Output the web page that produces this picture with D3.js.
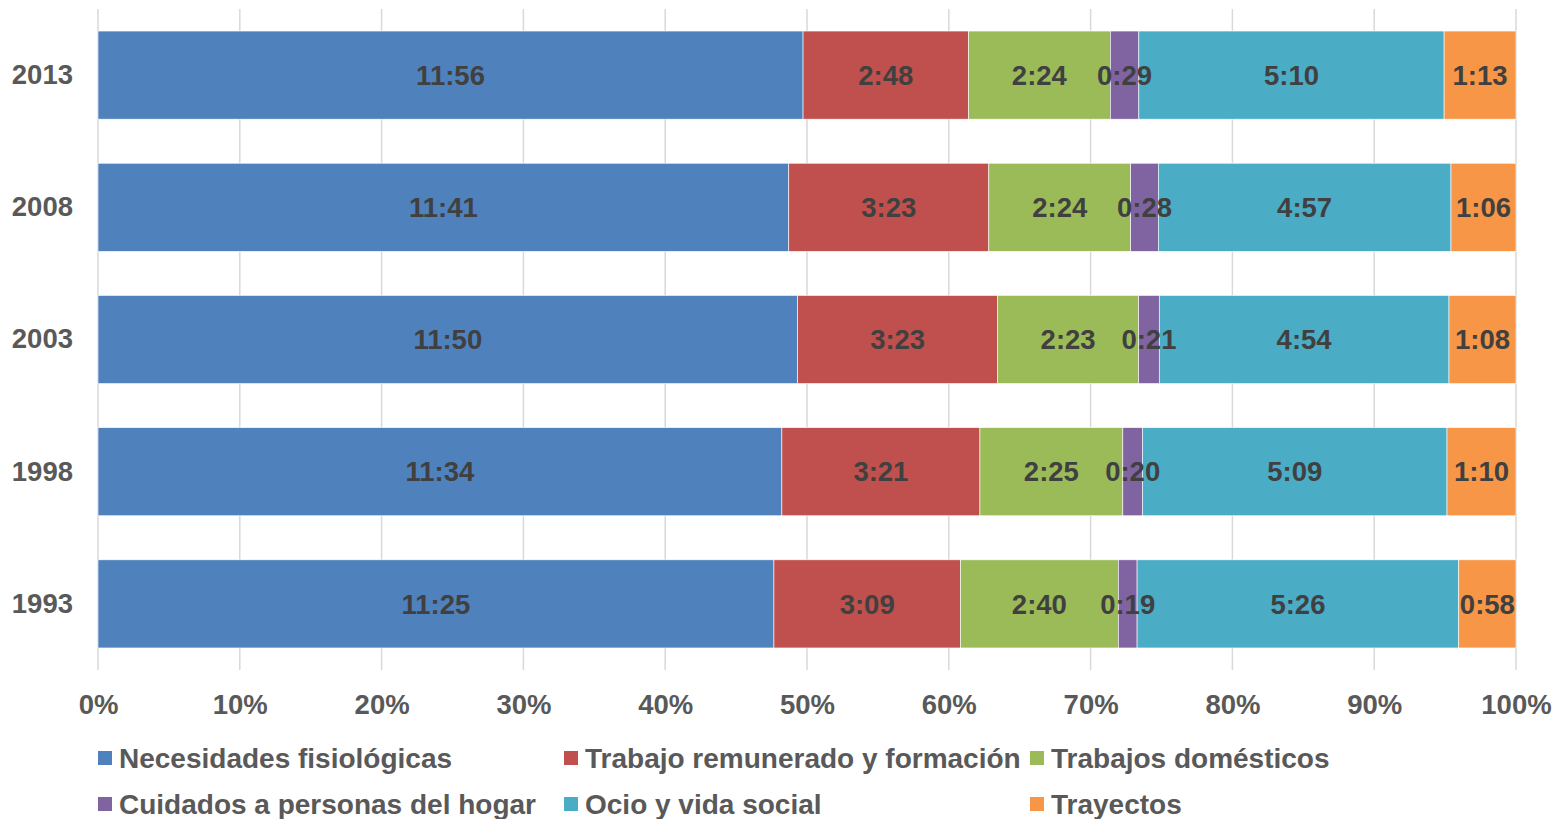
<!DOCTYPE html>
<html>
<head>
<meta charset="UTF-8">
<script src="https://d3js.org/d3.v7.min.js"></script>
<style>
  body { margin: 0; background: #fff; }
  svg text { font-family: "Liberation Sans", Arial, sans-serif; font-weight: bold; }
</style>
</head>
<body>
<svg width="1554" height="819"></svg>
<script>

// years top to bottom
var years = ["2013", "2008", "2003", "1998", "1993"];

var categories = ["Necesidades fisiológicas", "Trabajo remunerado y formación", "Trabajos domésticos",
                  "Cuidados a personas del hogar", "Ocio y vida social", "Trayectos"];

// time spent per day (h:mm), one array per category, same order as years
var fisiologicas = ["11:56", "11:41", "11:50", "11:34", "11:25"];
var remunerado   = ["2:48", "3:23", "3:23", "3:21", "3:09"];
var domesticos   = ["2:24", "2:24", "2:23", "2:25", "2:40"];
var cuidados     = ["0:29", "0:28", "0:21", "0:20", "0:19"];
var ocio         = ["5:10", "4:57", "4:54", "5:09", "5:26"];
var trayectos    = ["1:13", "1:06", "1:08", "1:10", "0:58"];

var tickLabels = ["0%", "10%", "20%", "30%", "40%", "50%", "60%", "70%", "80%", "90%", "100%"];

var colors = ["#4F81BD", "#C0504D", "#9BBB59", "#8064A2", "#4BACC6", "#F79646"];

var seriesValues = [fisiologicas, remunerado, domesticos, cuidados, ocio, trayectos];

function toMinutes(s) {
  var p = s.split(":");
  return +p[0] * 60 + +p[1];
}

var rows = years.map(function(y, i) {
  var r = {year: y};
  categories.forEach(function(c, j) { r[c] = toMinutes(seriesValues[j][i]); r[c + "_lbl"] = seriesValues[j][i]; });
  return r;
});

var svg = d3.select("svg"),
    margin = {top: 9, right: 38, bottom: 149, left: 98},
    chartWidth = +svg.attr("width") - margin.left - margin.right,
    chartHeight = +svg.attr("height") - margin.top - margin.bottom,
    g = svg.append("g").attr("transform", "translate(" + margin.left + "," + margin.top + ")");

var x = d3.scaleLinear().domain([0, 1]).range([0, chartWidth]);

var y = d3.scaleBand()
    .domain(years)
    .range([0, chartHeight])
    .paddingInner(1 / 3)
    .paddingOuter(1 / 6);

var z = d3.scaleOrdinal().domain(categories).range(colors);

// gridlines
g.append("g")
  .selectAll("line")
  .data(d3.range(0, 1.0001, 0.1))
  .enter().append("line")
    .attr("x1", function(d) { return x(d); })
    .attr("x2", function(d) { return x(d); })
    .attr("y1", 0)
    .attr("y2", chartHeight)
    .attr("stroke", "#d9d9d9")
    .attr("stroke-width", 1.5);

var stack = d3.stack().keys(categories).offset(d3.stackOffsetExpand)(rows);

g.append("g")
  .selectAll("g")
  .data(stack)
  .enter().append("g")
    .attr("fill", function(d) { return z(d.key); })
  .selectAll("rect")
  .data(function(d) { return d; })
  .enter().append("rect")
    .attr("x", function(d) { return x(d[0]); })
    .attr("y", function(d) { return y(d.data.year); })
    .attr("width", function(d) { return x(d[1]) - x(d[0]); })
    .attr("height", y.bandwidth())
    .attr("stroke", "#ffffff")
    .attr("stroke-width", 0.6);

// value labels, drawn over all bars
g.append("g")
  .selectAll("g")
  .data(stack)
  .enter().append("g")
  .selectAll("text")
  .data(function(s) { return s.map(function(d) { return {d: d, key: s.key}; }); })
  .enter().append("text")
    .attr("x", function(o) { return (x(o.d[0]) + x(o.d[1])) / 2; })
    .attr("y", function(o) { return y(o.d.data.year) + y.bandwidth() / 2; })
    .attr("dy", "0.35em")
    .attr("text-anchor", "middle")
    .attr("fill", "#404040")
    .attr("font-size", "27.5px")
    .text(function(o) { return o.d.data[o.key + "_lbl"]; });

// y axis labels
var yAxis = g.append("g")
  .call(d3.axisLeft(y).tickSize(0).tickPadding(25));
yAxis.select(".domain").remove();
yAxis.selectAll("text")
  .attr("font-size", "27.5px")
  .attr("fill", "#595959")
  .attr("font-family", null);

// x axis labels
var xAxis = g.append("g")
  .attr("transform", "translate(0," + chartHeight + ")")
  .call(d3.axisBottom(x).tickValues(d3.range(0, 1.0001, 0.1)).tickSize(0).tickPadding(24)
        .tickFormat(function(d, i) { return tickLabels[i]; }));
xAxis.select(".domain").remove();
xAxis.selectAll("text")
  .attr("font-size", "27.5px")
  .attr("fill", "#595959")
  .attr("font-family", null);

// legend
var legendX = [98, 564, 1030];
var legendY = [758, 804];
var legend = svg.append("g")
  .selectAll("g")
  .data(categories)
  .enter().append("g")
    .attr("transform", function(d, i) {
      return "translate(" + legendX[i % 3] + "," + legendY[Math.floor(i / 3)] + ")";
    });

legend.append("rect")
  .attr("x", 0)
  .attr("y", -7)
  .attr("width", 14)
  .attr("height", 14)
  .attr("fill", z);

legend.append("text")
  .attr("x", 21)
  .attr("y", 0)
  .attr("dy", "0.35em")
  .attr("font-size", "28px")
  .attr("fill", "#595959")
  .text(function(d) { return d; });

</script>
</body>
</html>
